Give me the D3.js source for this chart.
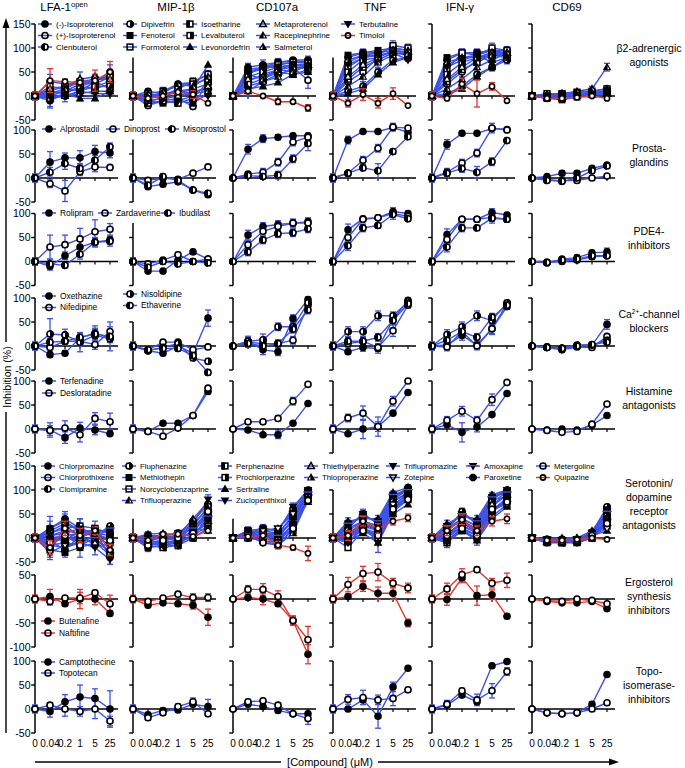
<!DOCTYPE html>
<html><head><meta charset="utf-8">
<script src="https://cdn.jsdelivr.net/npm/d3@7"></script>
<style>body{margin:0;background:#fff}svg{display:block;font-family:"Liberation Sans",Arial,Helvetica,sans-serif}</style>
</head><body><svg id="c" width="685" height="768"></svg>
<script>
// ---------- DATA ----------
const concentrations = ["0","0.04","0.2","1","5","25"];
const readouts = ["LFA-1","MIP-1β","CD107a","TNF","IFN-γ","CD69"];
// each series: [LFA-1, MIP-1β, CD107a, TNF, IFN-γ, CD69] x 6 concentrations

const beta2Names = ["(-)-Isoproterenol","(+)-Isoproterenol","Clenbuterol","Dipivefrin","Fenoterol","Formoterol","Isoetharine","Levalbuterol","Levonordefrin","Metaproterenol","Racepinephrine","Salmeterol","Terbutaline","Timolol"];
const beta2Values = [
 [[0,-10,5,20,30,45],[0,10,5,25,28,45],[0,60,65,70,75,75],[0,80,90,90,100,95],[0,75,90,90,95,95],[0,0,5,5,8,10]],
 [[0,30,25,25,30,50],[0,-20,-10,-5,-22,30],[0,30,45,55,60,33],[0,30,50,80,95,90],[0,25,50,75,85,90],[0,-5,0,2,5,5]],
 [[0,10,20,30,35,40],[0,-5,5,10,15,25],[0,50,55,65,70,70],[0,70,85,90,95,90],[0,65,80,85,95,85],[0,2,3,5,5,8]],
 [[0,-5,0,10,20,30],[0,0,-5,0,10,15],[0,20,30,45,55,60],[0,10,20,50,75,80],[0,5,20,45,60,75],[0,-3,-5,0,3,5]],
 [[0,5,10,25,35,35],[0,-10,-15,-10,-15,5],[0,55,60,70,72,72],[0,85,90,95,100,95],[0,80,90,90,95,90],[0,-5,-8,-2,5,12]],
 [[0,20,15,30,25,40],[0,5,0,15,30,45],[0,45,60,65,70,68],[0,60,80,85,105,100],[0,55,90,85,100,95],[0,5,5,8,10,15]],
 [[0,10,5,20,15,25],[0,-15,-10,-15,-5,30],[0,25,35,50,45,55],[0,35,60,75,90,85],[0,30,55,70,85,85],[0,0,2,5,5,10]],
 [[0,0,10,15,20,20],[0,-5,10,20,25,35],[0,40,50,60,65,62],[0,50,75,80,95,90],[0,45,70,80,90,85],[0,-2,0,3,5,8]],
 [[0,-5,5,-5,-5,10],[0,0,5,5,15,65],[0,15,20,28,45,50],[0,5,15,45,70,80],[0,3,15,40,60,80],[0,3,5,8,10,15]],
 [[0,15,20,35,40,35],[0,-10,-5,0,5,20],[0,35,40,55,65,65],[0,40,65,80,95,92],[0,35,60,80,90,90],[0,0,-2,2,3,5]],
 [[0,5,15,10,30,15],[0,5,10,25,20,40],[0,10,30,40,60,60],[0,20,40,70,85,95],[0,15,35,60,75,90],[0,2,5,10,15,60]],
 [[0,-5,0,5,10,10],[0,-5,0,10,5,10],[0,45,35,55,50,65],[0,75,85,85,90,88],[0,70,80,80,85,80],[0,-3,-5,0,3,10]],
 [[0,0,0,10,5,5],[0,-10,-5,-10,0,0],[0,50,60,60,65,60],[0,65,80,85,90,75],[0,60,75,85,70,80],[0,0,0,2,5,5]],
 [[0,32,30,28,32,50],[0,-5,0,8,3,-15],[0,10,0,-12,-12,-25],[0,-15,3,-15,5,-20],[0,-5,25,5,20,-10],[0,-5,-5,-3,0,-5]]
];
const beta2Errors = [
 [[8,12,10,10,12,10],[8,5,8,5,5,8],[0,8,10,8,5,8],[8,8,8,8,8,6],[8,8,8,8,8,6],[0,3,3,3,3,3]],
 [[8,15,10,12,10,15],[8,5,5,5,5,5],[0,10,10,10,8,17],[8,12,10,10,8,8],[8,10,10,8,10,8],[0,3,5,3,3,3]],
 null,
 [[8,20,12,10,10,8],[8,5,5,5,5,5],[0,10,12,8,8,8],[8,10,10,8,8,8],[8,10,10,10,8,8],[0,3,3,3,3,3]],
 null,
 [[8,10,15,20,20,12],[8,8,10,8,8,8],[0,8,8,8,8,8],[8,10,8,8,10,8],[8,10,8,8,10,8],[0,3,3,3,3,3]],
 null, null, null, null,
 [[8,10,10,20,15,10],[8,8,8,5,10,12],[0,10,10,10,8,10],[8,10,10,10,8,8],[8,10,10,10,8,8],[0,3,3,3,5,8]],
 null, null,
 [[8,25,5,5,22,22],[8,5,5,5,8,0],[0,0,0,6,0,7],[8,8,12,10,12,0],[8,0,12,28,8,0],[0,0,0,0,0,0]]
];

const prostaNames = ["Alprostadil","Dinoprost","Misoprostol"];
const prostaValues = [
 [[0,33,42,42,55,52],[0,-18,-13,-8,-25,-35],[0,60,82,85,88,88],[0,79,97,97,105,95],[0,70,93,93,103,101],[0,3,10,10,20,27]],
 [[0,-12,-27,13,23,22],[0,-5,0,-3,10,23],[0,8,12,33,75,85],[0,10,37,62,106,104],[0,12,31,52,104,100],[0,-3,-6,-5,0,4]],
 [[0,12,30,20,37,65],[0,-15,3,-5,-25,-32],[0,5,3,6,40,72],[0,10,21,15,55,86],[0,10,20,12,34,78],[0,-5,-7,0,15,25]]
];
const prostaErrors = [
 [[8,22,10,15,13,10],[8,5,5,5,5,5],[0,10,8,5,5,5],[8,8,3,3,5,3],[8,10,3,3,3,3],[0,3,5,5,5,3]],
 [[8,8,22,8,10,5],[8,5,5,5,3,3],[0,5,8,8,8,8],[8,5,8,8,8,5],[8,8,8,8,10,5],[0,3,3,3,3,3]],
 [[8,10,12,10,10,8],[8,5,5,5,5,5],[0,5,5,8,8,15],[8,5,5,15,5,5],[8,8,8,12,8,5],[0,3,3,3,5,5]]
];

const pde4Names = ["Rolipram","Zardaverine","Ibudilast"];
const pde4Values = [
 [[0,-10,12,30,40,45],[0,-20,-20,3,20,5],[0,55,73,77,80,83],[0,66,89,91,104,100],[0,56,88,88,102,97],[0,-3,5,8,18,20]],
 [[0,30,35,47,62,67],[0,-5,3,14,0,5],[0,35,63,73,80,80],[0,50,88,91,100,94],[0,46,88,88,92,88],[0,-2,0,3,10,12]],
 [[0,-5,-8,15,40,42],[0,-12,0,-5,0,-3],[0,20,45,58,60,68],[0,33,70,75,98,89],[0,30,70,70,90,88],[0,-2,3,5,12,12]]
];
const pde4Errors = [
 [[8,8,8,15,10,8],[8,5,5,5,5,5],[0,10,8,8,8,8],[8,12,5,5,8,5],[8,12,5,5,8,5],[0,3,3,3,5,8]],
 [[8,25,20,22,25,12],[8,5,5,5,5,5],[0,8,8,8,8,8],[8,10,5,5,5,5],[8,10,5,5,8,5],[0,3,3,3,3,3]],
 [[8,10,5,10,8,10],[8,5,5,5,5,5],[0,8,8,8,8,8],[8,10,8,5,10,5],[8,10,8,5,10,5],[0,3,3,3,3,3]]
];

const caNames = ["Oxethazine","Nifedipine","Nisoldipine","Ethaverine"];
const caValues = [
 [[0,-18,-15,17,27,17],[0,-10,-15,0,-15,58],[0,10,-8,-12,57,97],[0,-12,-3,-5,55,95],[0,2,22,2,36,82],[0,-3,-5,0,2,45]],
 [[0,-3,10,10,3,30],[0,-8,8,8,-8,-2],[0,8,5,5,12,85],[0,5,10,-3,32,85],[0,-2,30,0,36,88],[0,-3,-8,-2,-3,20]],
 [[0,25,23,8,22,15],[0,-10,-3,5,-25,-32],[0,10,13,40,40,90],[0,30,30,63,63,92],[0,24,40,63,53,90],[0,-2,-5,2,2,12]],
 [[0,8,10,18,25,20],[0,-8,-5,-5,-20,-55],[0,5,0,5,35,75],[0,10,10,18,53,88],[0,12,30,18,60,85],[0,-3,-5,0,3,8]]
];
const caErrors = [
 [[8,5,5,10,15,10],[8,5,5,5,5,17],[0,10,10,8,8,5],[8,5,8,10,10,5],[8,5,10,5,10,5],[0,3,3,3,3,10]],
 [[8,10,5,10,10,20],[8,5,5,5,5,5],[0,10,10,5,8,5],[8,8,10,8,12,5],[8,8,8,8,12,5],[0,3,3,3,3,3]],
 [[8,32,12,20,15,25],[8,5,5,5,5,5],[0,10,12,8,8,5],[8,10,10,10,8,5],[8,10,10,10,8,5],[0,3,3,3,3,5]],
 [[8,8,8,10,10,10],[8,5,5,5,5,5],[0,8,8,8,8,8],[8,8,8,8,8,5],[8,8,8,8,8,5],[0,3,3,3,3,3]]
];

const histNames = ["Terfenadine","Desloratadine"];
const histValues = [
 [[0,-2,-18,2,-2,-10],[0,-5,12,12,28,78],[0,-2,-12,-12,12,53],[0,-10,0,5,33,76],[0,9,-7,4,30,74],[0,-2,0,-2,8,28]],
 [[0,-3,2,-12,22,15],[0,-5,-15,2,28,85],[0,15,15,22,58,93],[0,23,33,5,58,100],[0,18,37,18,61,97],[0,-3,-7,-5,10,52]]
];
const histErrors = [
 [[8,15,12,12,10,0],[8,3,3,3,3,5],[0,3,3,8,3,3],[8,3,20,20,3,3],[8,3,20,10,3,3],[0,3,3,3,3,3]],
 [[8,10,15,15,12,18],[8,3,3,3,3,3],[0,3,3,5,8,3],[8,8,15,10,10,5],[8,8,10,8,12,3],[0,3,3,3,3,5]]
];

const seroNames = ["Chlorpromazine","Chlorprothixene","Clomipramine","Fluphenazine","Methiothepin","Norcyclobenzaprine","Trifluoperazine","Perphenazine","Prochlorperazine","Sertraline","Zuclopenthixol","Thiethylperazine","Thioproperazine","Triflupromazine","Zotepine","Amoxapine","Paroxetine","Metergoline","Quipazine"];
const seroValues = [
 [[0,20,40,20,10,20],[0,5,5,8,30,60],[0,10,15,10,45,95],[0,30,45,35,90,100],[0,25,50,35,85,95],[0,-5,-5,-3,10,60]],
 [[0,-20,10,0,15,-40],[0,-15,-10,-5,15,45],[0,5,0,-5,20,85],[0,10,30,15,70,90],[0,10,30,20,60,80],[0,-8,-8,-8,5,30]],
 [[0,-5,-25,5,-15,5],[0,-5,0,5,20,55],[0,0,5,5,35,90],[0,-10,20,5,60,85],[0,-5,20,5,55,75],[0,-3,-5,-5,8,50]],
 [[0,15,30,15,5,25],[0,0,5,10,35,70],[0,15,20,15,60,100],[0,20,50,30,85,105],[0,20,55,30,80,100],[0,-5,-3,-3,12,65]],
 [[0,-25,-30,-20,-10,-35],[0,-20,-15,-10,5,40],[0,5,10,0,40,90],[0,5,25,20,75,95],[0,5,30,15,70,90],[0,-10,-10,-10,0,35]],
 [[0,5,15,10,15,-10],[0,-10,-5,0,10,30],[0,0,-5,-10,15,80],[0,-20,15,0,55,80],[0,-10,15,0,45,70],[0,-5,-8,-5,5,25]],
 [[0,-10,0,-5,-5,-20],[0,8,10,5,40,75],[0,10,15,20,55,95],[0,35,40,40,95,105],[0,30,45,40,90,100],[0,-3,0,0,15,55]],
 [[0,10,20,25,20,10],[0,-5,-10,-5,25,65],[0,15,10,5,50,98],[0,15,35,25,80,100],[0,15,40,25,75,95],[0,-5,-5,-5,10,55]],
 [[0,-15,-10,-15,0,-30],[0,-15,-20,-15,0,50],[0,5,0,-5,30,85],[0,0,20,10,65,95],[0,0,25,10,65,90],[0,-8,-10,-8,0,40]],
 [[0,0,5,10,5,0],[0,0,0,5,20,15],[0,10,5,0,25,75],[0,-5,10,-10,50,70],[0,-5,15,-5,40,65],[0,-3,-3,0,5,15]],
 [[0,20,35,15,15,15],[0,5,0,0,30,80],[0,10,20,15,65,100],[0,25,50,30,85,100],[0,20,50,30,85,100],[0,-5,-5,-3,10,60]],
 [[0,-5,0,0,-10,-25],[0,-10,-15,-5,15,60],[0,5,5,0,40,95],[0,5,30,20,75,95],[0,5,35,20,70,90],[0,-8,-8,-5,5,45]],
 [[0,10,25,5,10,5],[0,-5,5,0,25,50],[0,0,-5,-15,10,80],[0,20,35,25,80,90],[0,20,40,25,80,85],[0,-5,-5,-5,8,50]],
 [[0,-15,-20,-10,-20,-45],[0,-20,-15,-15,10,35],[0,15,10,10,45,90],[0,-10,25,-10,60,85],[0,-10,20,-5,55,80],[0,-10,-8,-10,0,30]],
 [[0,-30,-15,-10,5,-15],[0,-10,-5,-10,5,25],[0,5,15,20,50,85],[0,10,15,5,70,80],[0,10,20,5,60,70],[0,-3,-5,-3,5,20]],
 [[0,5,10,20,0,20],[0,0,5,10,20,45],[0,0,0,5,35,95],[0,30,45,35,90,100],[0,25,50,35,85,95],[0,-5,-5,-5,10,55]],
 [[0,0,-5,15,15,10],[0,-5,-10,-5,0,20],[0,10,5,-10,30,80],[0,0,25,15,60,90],[0,0,25,15,55,85],[0,-8,-5,-8,3,40]],
 [[0,-10,5,-15,10,-5],[0,-15,-5,0,10,55],[0,5,-10,-15,20,78],[0,5,15,5,60,80],[0,5,20,5,60,75],[0,-5,-8,-5,5,30]],
 [[0,-20,20,5,15,-25],[0,-5,8,8,3,15],[0,3,5,-15,-20,-32],[0,5,35,20,35,42],[0,15,38,15,35,40],[0,-5,-5,-3,0,-3]]
];
const seroErrors = [
 [[8,25,15,20,15,10],[8,8,8,8,8,10],[0,8,8,8,10,5],[8,12,12,12,8,5],[8,12,12,12,8,5],[0,3,3,3,5,8]],
 [[8,25,20,15,10,15],[8,8,8,8,8,8],[0,8,8,8,10,8],[8,15,10,12,10,8],[8,10,10,10,10,8],[0,3,3,3,3,5]],
 null, null,
 [[8,15,10,20,10,10],[8,8,8,8,8,8],[0,8,8,8,8,8],[8,10,10,10,10,5],[8,10,10,10,10,5],[0,3,3,3,3,5]],
 null, null,
 [[8,10,20,15,15,15],[8,5,5,5,10,10],[0,8,8,8,8,5],[8,10,10,10,10,5],[8,10,10,10,10,5],[0,3,3,3,3,8]],
 null, null,
 [[8,15,15,12,8,10],[8,8,8,8,8,10],[0,8,8,8,8,5],[8,12,10,12,10,5],[8,10,10,10,10,5],[0,3,3,3,5,8]],
 null, null,
 [[8,20,15,15,15,10],[8,8,8,8,10,10],[0,8,8,8,10,8],[8,10,12,20,10,8],[8,10,10,10,10,8],[0,3,3,3,3,5]],
 null, null, null, null,
 [[8,15,15,15,8,12],[8,5,5,5,5,5],[0,5,5,8,5,15],[8,10,10,10,8,8],[8,10,10,10,10,10],[0,3,3,3,3,3]]
];

const ergoNames = ["Butenafine","Naftifine"];
const ergoValues = [
 [[0,5,-10,0,0,-30],[0,-13,-8,-10,-13,-38],[0,3,0,-10,-45,-115],[0,5,26,12,12,-50],[0,-1,44,7,9,-36],[0,-5,-8,-8,-5,-20]],
 [[0,-5,2,2,13,-10],[0,-5,2,10,3,3],[0,20,20,5,-45,-85],[0,30,53,56,33,23],[0,21,51,61,33,39],[0,-3,-5,0,-3,-10]]
];
const ergoErrors = [
 [[8,15,5,20,12,5],[8,5,5,5,8,17],[0,5,12,5,10,20],[8,5,10,13,13,8],[8,12,10,20,10,5],[0,3,3,3,3,5]],
 [[8,8,5,12,5,18],[0,5,5,5,8,8],[0,8,12,12,8,28],[8,15,15,18,10,10],[8,12,12,5,10,15],[0,3,3,3,3,3]]
];

const topoNames = ["Camptothecine","Topotecan"];
const topoValues = [
 [[0,-5,15,25,22,0],[0,-12,-3,-2,10,5],[0,10,5,-3,-10,-10],[0,0,19,-15,46,85],[0,8,29,15,90,99],[0,-8,-10,-8,10,72]],
 [[0,8,0,-5,0,-25],[0,-18,-8,5,15,-10],[0,15,17,8,-10,-20],[0,20,24,19,22,40],[0,10,38,19,38,78],[0,-8,-10,-8,0,13]]
];
const topoErrors = [
 [[8,12,15,25,20,38],[8,5,5,5,5,15],[0,5,5,5,5,5],[8,5,5,25,10,3],[8,5,5,5,5,3],[0,3,3,3,5,3]],
 [[8,5,15,10,20,10],[8,5,5,5,8,5],[0,5,5,5,5,12],[8,10,15,10,15,5],[8,8,5,12,15,8],[0,3,3,3,3,3]]
];

// ---------- STYLE / LAYOUT ----------
const BLUE = "#3c52e6", RED = "#e4342b";
const redSeries = new Set(["Timolol","Quipazine","Butenafine","Naftifine"]);
const markerStyle = {
 "(-)-Isoproterenol":"fc","(+)-Isoproterenol":"oc","Clenbuterol":"hcL","Dipivefrin":"hcR","Fenoterol":"fs","Formoterol":"os","Isoetharine":"hsL","Levalbuterol":"hsR","Levonordefrin":"ft","Metaproterenol":"ot","Racepinephrine":"htL","Salmeterol":"htR","Terbutaline":"fv","Timolol":"sc",
 "Alprostadil":"fc","Dinoprost":"oc","Misoprostol":"hcL",
 "Rolipram":"fc","Zardaverine":"oc","Ibudilast":"hcL",
 "Oxethazine":"fc","Nifedipine":"oc","Nisoldipine":"hcR","Ethaverine":"hcL",
 "Terfenadine":"fc","Desloratadine":"oc",
 "Chlorpromazine":"fc","Chlorprothixene":"oc","Clomipramine":"hcL","Fluphenazine":"hcR","Methiothepin":"fs","Norcyclobenzaprine":"os","Trifluoperazine":"htL","Perphenazine":"hsL","Prochlorperazine":"hsR","Sertraline":"ft","Zuclopenthixol":"fv","Thiethylperazine":"ot","Thioproperazine":"htR","Triflupromazine":"fv","Zotepine":"ov","Amoxapine":"hv","Paroxetine":"fo","Metergoline":"oc","Quipazine":"sc",
 "Butenafine":"fc","Naftifine":"oc","Camptothecine":"fc","Topotecan":"oc"
};
const colX = [35,133,233,333,432,532];
const titleX = [64,176,277,375,460,567];

const rows = [
 {names:beta2Names, values:beta2Values, errors:beta2Errors, lo:-50, hi:150, zero:96, top:[150,80,80,80,150,150], label:["β2-adrenergic","agonists"], labelY:55,
  legend:[["(-)-Isoproterenol",45,24],["(+)-Isoproterenol",45,35.5],["Clenbuterol",45,47],["Dipivefrin",130,24],["Fenoterol",130,35.5],["Formoterol",130,47],["Isoetharine",190,24],["Levalbuterol",190,35.5],["Levonordefrin",190,47],["Metaproterenol",263,24],["Racepinephrine",263,35.5],["Salmeterol",263,47],["Terbutaline",348,24],["Timolol",348,35.5]], lfs:8},
 {names:prostaNames, values:prostaValues, errors:prostaErrors, lo:-50, hi:100, zero:178, top:[100,80,100,100,100,100], label:["Prosta-","glandins"], labelY:155,
  legend:[["Alprostadil",49,129],["Dinoprost",113,129],["Misoprostol",172,129]], lfs:8.4},
 {names:pde4Names, values:pde4Values, errors:pde4Errors, lo:-50, hi:100, zero:261.5, top:[100,80,100,100,100,100], label:["PDE4-","inhibitors"], labelY:238,
  legend:[["Rolipram",49,213],["Zardaverine",105,213],["Ibudilast",168,213]], lfs:8.4},
 {names:caNames, values:caValues, errors:caErrors, lo:-50, hi:100, zero:346, top:[100,50,100,100,100,100], label:["Ca2+-channel","blockers"], labelY:321,
  legend:[["Oxethazine",49,296],["Nifedipine",49,307.5],["Nisoldipine",130,294],["Ethaverine",130,305.5]], lfs:8.4},
 {names:histNames, values:histValues, errors:histErrors, lo:-50, hi:100, zero:429, top:[100,100,100,100,100,100], label:["Histamine","antagonists"], labelY:398,
  legend:[["Terfenadine",49,381],["Desloratadine",49,393]], lfs:8.4},
 {names:seroNames, values:seroValues, errors:seroErrors, lo:-50, hi:150, zero:538, top:[150,40,40,100,100,100], label:["Serotonin/","dopamine","receptor","antagonists"], labelY:504,
  legend:[["Chlorpromazine",48,466],["Chlorprothixene",48,477.5],["Clomipramine",48,489],["Fluphenazine",129,466],["Methiothepin",129,477.5],["Norcyclobenzaprine",129,489],["Trifluoperazine",129,500.5],["Perphenazine",225,466],["Prochlorperazine",225,477.5],["Sertraline",225,489],["Zuclopenthixol",225,500.5],["Thiethylperazine",311,466],["Thioproperazine",311,477.5],["Triflupromazine",393,466],["Zotepine",393,477.5],["Amoxapine",473,466],["Paroxetine",473,477.5],["Metergoline",543,466],["Quipazine",543,477.5]], lfs:7.8},
 {names:ergoNames, values:ergoValues, errors:ergoErrors, lo:-100, hi:50, zero:599, top:[50,50,50,50,50,50], label:["Ergosterol","synthesis","inhibitors"], labelY:596,
  legend:[["Butenafine",48,621],["Naftifine",48,633]], lfs:8.4},
 {names:topoNames, values:topoValues, errors:topoErrors, lo:-50, hi:100, zero:709, top:[100,100,100,100,100,100], label:["Topo-","isomerase-","inhibitors"], labelY:685,
  legend:[["Camptothecine",48,662],["Topotecan",48,673]], lfs:8.4}
];

const svg = d3.select("#c");
const x = d3.scalePoint().domain(concentrations).range([0,75]);

function drawMarker(sel, type, cx, cy, legend){
  const r = 3.8, g = sel.append("g").attr("transform",`translate(${cx},${cy})`);
  const openFill = legend ? "none" : "#fff";
  const K = "#000";
  const up = "M0,-4.5L4.3,3L-4.3,3Z";
  const dn = "M0,4.5L4.3,-3L-4.3,-3Z";
  switch(type){
    case "fc": g.append("circle").attr("r",r).attr("fill",K); break;
    case "fo": g.append("path").attr("d",d3.line()(d3.range(8).map(i=>[4.1*Math.cos(Math.PI/8+i*Math.PI/4),4.1*Math.sin(Math.PI/8+i*Math.PI/4)]))+"Z").attr("fill",K); break;
    case "oc": g.append("circle").attr("r",r-0.75).attr("fill",openFill).attr("stroke",K).attr("stroke-width",1.6); break;
    case "sc": g.append("circle").attr("r",2.6).attr("fill",openFill).attr("stroke",K).attr("stroke-width",1.6); break;
    case "hcL": case "hcR":
      g.append("circle").attr("r",r-0.75).attr("fill","#fff").attr("stroke",K).attr("stroke-width",1.6);
      g.append("path").attr("d",`M0,${-r}A${r},${r} 0 0 ${type==="hcL"?0:1} 0,${r}Z`).attr("fill",K); break;
    case "fs": g.append("rect").attr("x",-3.5).attr("y",-3.5).attr("width",7).attr("height",7).attr("fill",K); break;
    case "os": g.append("rect").attr("x",-2.9).attr("y",-2.9).attr("width",5.8).attr("height",5.8).attr("fill",openFill).attr("stroke",K).attr("stroke-width",1.5); break;
    case "hsL": case "hsR":
      g.append("rect").attr("x",-2.9).attr("y",-2.9).attr("width",5.8).attr("height",5.8).attr("fill","#fff").attr("stroke",K).attr("stroke-width",1.5);
      g.append("rect").attr("x",type==="hsL"?-3.6:0).attr("y",-3.6).attr("width",3.6).attr("height",7.2).attr("fill",K); break;
    case "ft": g.append("path").attr("d",up).attr("fill",K); break;
    case "ot": g.append("path").attr("d","M0,-3.6L3.4,2.4L-3.4,2.4Z").attr("fill",openFill).attr("stroke",K).attr("stroke-width",1.5); break;
    case "htL": case "htR":
      g.append("path").attr("d",up).attr("fill",K);
      g.append("path").attr("d",type==="htL"?"M0.6,-1.2L0.6,2L2.4,2Z":"M-0.6,-1.2L-0.6,2L-2.4,2Z").attr("fill","#fff"); break;
    case "fv": g.append("path").attr("d",dn).attr("fill",K); break;
    case "ov": g.append("path").attr("d","M0,3.6L3.4,-2.4L-3.4,-2.4Z").attr("fill",openFill).attr("stroke",K).attr("stroke-width",1.5); break;
    case "hv":
      g.append("path").attr("d",dn).attr("fill",K);
      g.append("rect").attr("x",-4.8).attr("y",-1).attr("width",9.6).attr("height",1.3).attr("fill",BLUE); break;
  }
}

// titles
const titles = svg.append("g").attr("font-size",11.5).attr("text-anchor","middle");
readouts.forEach((r,i)=>{
  const t = titles.append("text").attr("x",titleX[i]).attr("y",11);
  if(i===0){ t.append("tspan").text("LFA-1"); t.append("tspan").attr("font-size",7.5).attr("dy",-4).text("open"); }
  else t.text(r);
});

rows.forEach(row=>{
  const y = d3.scaleLinear().domain([0,50]).range([row.zero,row.zero-24]);
  readouts.forEach((rd,ci)=>{
    const g = svg.append("g").attr("transform",`translate(${colX[ci]},0)`);
    const top = row.top[ci];
    g.append("line").attr("x1",0).attr("x2",0).attr("y1",y(top)).attr("y2",y(row.lo)).attr("stroke","#000").attr("stroke-width",1.5);
    d3.range(row.lo, top+0.1, 50).forEach(t=>{
      g.append("line").attr("x1",-3.8).attr("x2",0).attr("y1",y(t)).attr("y2",y(t)).attr("stroke","#000").attr("stroke-width",1.4);
    });
    g.append("line").attr("x1",0).attr("x2",x("25")+8).attr("y1",y(0)).attr("y2",y(0)).attr("stroke","#000").attr("stroke-width",1.6);
    concentrations.slice(1).forEach(c=>{
      g.append("line").attr("x1",x(c)).attr("x2",x(c)).attr("y1",y(0)).attr("y2",y(0)+3).attr("stroke","#000").attr("stroke-width",1.2);
    });
    if(ci===0){
      d3.range(row.lo, row.hi+0.1, 50).forEach(t=>{
        g.append("text").attr("x",-4.5).attr("y",y(t)).attr("dy","0.35em").attr("text-anchor","end").attr("font-size",10.5).text(t);
      });
    }
    const order = row.names.map((n,i)=>i);
    const layers = [order.filter(i=>!redSeries.has(row.names[i])), order.filter(i=>redSeries.has(row.names[i]))];
    layers.forEach(idx=>{
      idx.forEach(si=>{
        const col = redSeries.has(row.names[si]) ? RED : BLUE;
        const vals = row.values[si][ci];
        const errs = row.errors[si] ? row.errors[si][ci] : null;
        if(errs){
          vals.forEach((v,k)=>{
            const e = errs[k]; if(!e) return;
            const xx = x(concentrations[k]);
            g.append("line").attr("x1",xx).attr("x2",xx).attr("y1",y(v-e)).attr("y2",y(v+e)).attr("stroke",col).attr("stroke-width",1.3);
            [v-e,v+e].forEach(w=>g.append("line").attr("x1",xx-3).attr("x2",xx+3).attr("y1",y(w)).attr("y2",y(w)).attr("stroke",col).attr("stroke-width",1.3));
          });
        }
        g.append("path").attr("d",d3.line().x((v,k)=>x(concentrations[k])).y(v=>y(v))(vals)).attr("fill","none").attr("stroke",col).attr("stroke-width",1.4);
      });
      idx.forEach(si=>{
        row.values[si][ci].forEach((v,k)=>drawMarker(g, markerStyle[row.names[si]], x(concentrations[k]), y(v), false));
      });
    });
    if(row === rows[rows.length-1]){
      concentrations.forEach(c=>{
        g.append("text").attr("x",x(c)).attr("y",747).attr("text-anchor","middle").attr("font-size",10).text(c);
      });
    }
  });
  // legend
  const lg = svg.append("g");
  row.legend.forEach(([name,lx,ly])=>{
    const col = redSeries.has(name) ? RED : BLUE;
    lg.append("line").attr("x1",lx-7).attr("x2",lx+7).attr("y1",ly).attr("y2",ly).attr("stroke",col).attr("stroke-width",1.5);
    drawMarker(lg, markerStyle[name], lx, ly, true);
    lg.append("text").attr("x",lx+11).attr("y",ly).attr("dy","0.35em").attr("font-size",row.lfs).text(name);
  });
  // row label
  const n = row.label.length;
  row.label.forEach((line,i)=>{
    const t = svg.append("text").attr("x",649).attr("y",row.labelY+(i-(n-1)/2)*14+3.8).attr("text-anchor","middle").attr("font-size",10.5);
    if(line.startsWith("Ca2+")){
      t.append("tspan").text("Ca"); t.append("tspan").attr("font-size",6.5).attr("dy",-4).text("2+"); t.append("tspan").attr("dy",4).text("-channel");
    } else t.text(line);
  });
});

// left arrow + label
svg.append("line").attr("x1",6).attr("x2",6).attr("y1",733).attr("y2",412).attr("stroke","#000").attr("stroke-width",1.4);
svg.append("line").attr("x1",6).attr("x2",6).attr("y1",342).attr("y2",26).attr("stroke","#000").attr("stroke-width",1.4);
svg.append("path").attr("d","M6,18L2.5,28L9.5,28Z").attr("fill","#000");
svg.append("text").attr("transform","translate(10.5,377) rotate(-90)").attr("text-anchor","middle").attr("font-size",10.5).text("Inhibition (%)");

// bottom arrow + label
svg.append("line").attr("x1",35).attr("x2",281).attr("y1",762).attr("y2",762).attr("stroke","#000").attr("stroke-width",1.4);
svg.append("line").attr("x1",378).attr("x2",612).attr("y1",762).attr("y2",762).attr("stroke","#000").attr("stroke-width",1.4);
svg.append("path").attr("d","M619,762L609,758.5L609,765.5Z").attr("fill","#000");
svg.append("text").attr("x",330).attr("y",766).attr("text-anchor","middle").attr("font-size",11).text("[Compound] (μM)");
</script></body></html>
